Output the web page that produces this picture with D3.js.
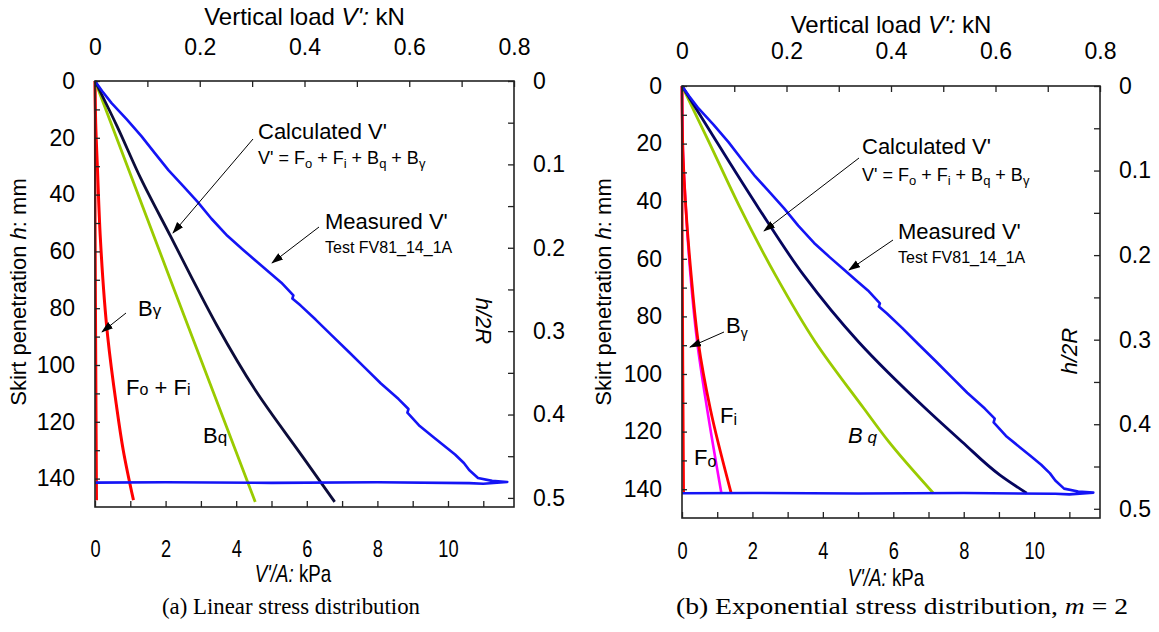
<!DOCTYPE html>
<html>
<head>
<meta charset="utf-8">
<script src="https://cdn.jsdelivr.net/npm/d3@7"></script>
<style>
  body { margin: 0; background: #fff; }
  svg { font-family: "Liberation Sans", Arial, sans-serif; }
</style>
</head>
<body>
<svg id="chart" width="1159" height="632"></svg>
<script>
//Skirt penetration vs vertical load, two stress distributions side by side.

//tick values / labels
const kNMinor = [0, 0.1, 0.2, 0.3, 0.4, 0.5, 0.6, 0.7, 0.8];
const kNTicks = [0, 0.2, 0.4, 0.6, 0.8];
const kPaMinor = [0, 1, 2, 3, 4, 5, 6, 7, 8, 9, 10, 11];
const kPaTicks = [0, 2, 4, 6, 8, 10];
const mmMinor = [0, 10, 20, 30, 40, 50, 60, 70, 80, 90, 100, 110, 120, 130, 140];
const mmTicks = [0, 20, 40, 60, 80, 100, 120, 140];
const ratioMinor = [0, 0.05, 0.1, 0.15, 0.2, 0.25, 0.3, 0.35, 0.4, 0.45, 0.5];
const ratioTicks = [0, 0.1, 0.2, 0.3, 0.4, 0.5];

//axis extents
const kPaMax = 11.87;   //= 0.8 kN / A
const mmMax = 150;
const twoR = 293.6;     //mm

//measured V' (test FV81_14_1A), same in both panels
const measuredKPa = [0, 0.2, 0.47, 0.9, 1.32, 1.7, 2.08, 2.5, 2.9, 3.3, 3.75, 4.2, 4.62, 4.95, 5.28, 5.62, 5.59, 5.82, 6.25, 6.7, 7.2, 7.65, 8.1, 8.6, 8.88, 8.85, 9.2, 9.6, 9.9, 10.2, 10.45, 10.6, 10.85, 11.25, 11.68, 11.0, 10.6, 8, 5, 2, 0];
const measuredMM  = [0, 3.5, 7.8, 13.5, 19.5, 25.5, 31.4, 37, 42.5, 48.5, 54.5, 59.5, 64, 67.5, 71, 75.5, 76.6, 79, 84, 89.5, 95.5, 101, 106.5, 112, 115.5, 116.8, 121.5, 125.5, 128.5, 131.5, 134.5, 137, 139.8, 140.8, 141.2, 141.8, 141.6, 141.3, 141.5, 141.3, 141.4];

//(a) linear stress distribution
const linFoFiKPa = [0, 0.02, 0.07, 0.15, 0.36, 0.6, 0.8, 1.09];
const linFoFiMM  = [0, 15, 31, 55, 90, 113.6, 130, 147.6];
const linBgKPa = [0, 0.01, 0.03, 0.05];
const linBgMM  = [0, 50, 100, 147.6];
const linBqKPa = [0, 2.26, 4.54];
const linBqMM  = [0, 74, 148.2];
const linCalcKPa = [0, 0.62, 1.3, 2.15, 2.75, 3.45, 4.55, 5.9, 6.79];
const linCalcMM  = [0, 15.8, 34.4, 54.9, 69.5, 86, 109, 132.6, 148.2];

//(b) exponential stress distribution, m = 2
const expFoKPa = [0, 0.02, 0.11, 0.24, 0.43, 0.71, 1.12];
const expFoMM  = [0, 20, 42.5, 65.6, 88.8, 111.9, 141.5];
const expFiKPa = [0, 0.02, 0.11, 0.26, 0.46, 0.8, 1.40];
const expFiMM  = [0, 20, 42.5, 65.6, 88.8, 111.9, 141.5];
const expBgKPa = [0, 0.01, 0.03, 0.05];
const expBgMM  = [0, 50, 100, 141.5];
const expBqKPa = [0, 0.76, 1.66, 2.65, 3.78, 5.16, 5.87, 7.14];
const expBqMM  = [0, 19.3, 42.5, 65.6, 88.8, 111.9, 123.5, 141.4];
const expCalcKPa = [0, 0.98, 2.18, 3.45, 5.01, 6.91, 7.95, 9.03, 9.79];
const expCalcMM  = [0, 19.3, 42.5, 65.6, 88.8, 111.9, 123.5, 135.1, 141.4];

const BLUE = "#1414f5", GREEN = "#9acb00", RED = "#ff0000", PINK = "#ff00ff";

const svg = d3.select("#chart");

svg.append("defs").append("marker")
  .attr("id","arrow")
  .attr("markerUnits","userSpaceOnUse")
  .attr("markerWidth",12).attr("markerHeight",10)
  .attr("refX",11).attr("refY",4)
  .attr("orient","auto")
  .append("path")
  .attr("d","M0,0 L12,4 L0,8 Z")
  .attr("fill","#000");

//write a text with small / subscript pieces
function rich(g, x, y, size, parts, opts){
  opts = opts || {};
  let t = g.append("text")
    .attr("x",x).attr("y",y)
    .attr("font-size",size)
    .attr("fill","#000");
  if(opts.anchor) t.attr("text-anchor",opts.anchor);
  if(opts.transform) t.attr("transform",opts.transform);
  if(opts.family) t.attr("font-family",opts.family);
  if(opts.len) t.attr("textLength",opts.len).attr("lengthAdjust","spacingAndGlyphs");
  let shift = 0;
  parts.forEach(p => {
    let s = t.append("tspan").text(p.t);
    let want = p.sub || 0;
    if(want !== shift){ s.attr("dy", want - shift); shift = want; }
    if(p.size) s.attr("font-size",p.size);
    if(p.it) s.attr("font-style","italic");
  });
  return t;
}

function arrow(g, a){
  g.append("line")
    .attr("x1",a[0]).attr("y1",a[1])
    .attr("x2",a[2]).attr("y2",a[3])
    .attr("stroke","#000").attr("stroke-width",1)
    .attr("marker-end","url(#arrow)");
}

const pick = list => d => list.some(v => Math.abs(v-d) < 1e-9) ? String(d) : "";

function drawPanel(p){
  let g = svg.append("g");

  let x = d3.scaleLinear().domain([0,kPaMax]).range([p.x0, p.x0+p.w]);
  let xTop = d3.scaleLinear().domain([0,0.8]).range([p.x0, p.x0+p.w]);
  let y = d3.scaleLinear().domain([0,mmMax]).range([p.y0, p.y0+p.h]);
  let yR = d3.scaleLinear().domain([0,mmMax/twoR]).range([p.y0, p.y0+p.h]);

  p.curves.forEach(c => {
    let line = d3.line()
      .curve(c.smooth ? d3.curveMonotoneY : d3.curveLinear)
      .x(d => x(d[0])).y(d => y(d[1]));
    g.append("path")
      .datum(d3.zip(c.kPa, c.mm))
      .attr("d", line)
      .attr("fill","none")
      .attr("stroke", c.color)
      .attr("stroke-width", c.width || 2.6)
      .attr("stroke-linejoin","round");
  });

  //frame
  g.append("rect")
    .attr("x",p.x0).attr("y",p.y0)
    .attr("width",p.w).attr("height",p.h)
    .attr("fill","none").attr("stroke","#222").attr("stroke-width",1.6);

  let style = a => {
    a.select(".domain").remove();
    a.attr("font-size",23).attr("font-family","Liberation Sans, Arial, sans-serif");
    a.selectAll(".tick line").attr("stroke","#222").attr("stroke-width",1.3);
    a.selectAll(".tick text").attr("fill","#000");
  };

  g.append("g")
    .attr("transform","translate(0,"+p.y0+")")
    .call(d3.axisTop(xTop).tickValues(kNMinor).tickSize(-6).tickPadding(p.topPad).tickFormat(pick(kNTicks)))
    .call(style);

  let bottom = g.append("g")
    .attr("transform","translate(0,"+(p.y0+p.h)+")")
    .call(d3.axisBottom(x).tickValues(kPaMinor).tickSize(-6).tickPadding(p.bottomPad).tickFormat(pick(kPaTicks)))
    .call(style);
  bottom.attr("font-size",24);
  bottom.selectAll(".tick text").attr("transform","scale(0.76,1)");

  g.append("g")
    .attr("transform","translate("+p.x0+",0)")
    .call(d3.axisLeft(y).tickValues(mmMinor).tickSize(-5).tickPadding(20).tickFormat(pick(mmTicks)))
    .call(style);

  g.append("g")
    .attr("transform","translate("+(p.x0+p.w)+",0)")
    .call(d3.axisRight(yR).tickValues(ratioMinor).tickSize(-6).tickPadding(19).tickFormat(pick(ratioTicks)))
    .call(style);

  //axis titles
  rich(g, p.x0+p.w/2, p.topTitleY, 24,
    [{t:"Vertical load "},{t:"V':",it:true},{t:" kN"}], {anchor:"middle"});
  rich(g, 0, 0, 22,
    [{t:"Skirt penetration "},{t:"h",it:true},{t:": mm"}],
    {anchor:"middle", transform:"translate("+p.yLab[0]+","+p.yLab[1]+") rotate(-90)"});
  rich(g, 0, 0, 24, [{t:"V'/A:",it:true},{t:" kPa"}],
    {anchor:"middle", transform:"translate("+p.kPaLab[0]+","+p.kPaLab[1]+") scale(0.78,1)"});
  rich(g, 0, 0, 22, [{t:"h/2R",it:true}],
    {anchor:"middle", transform:"translate("+p.hLab[0]+","+p.hLab[1]+") rotate("+p.hLab[2]+")"});

  //caption
  rich(g, p.cap[0], p.cap[1], 23, p.capParts,
    {anchor:"middle", family:"Liberation Serif, Times New Roman, serif", len:p.cap[2]});

  //annotations
  p.notes.forEach(n => rich(g, n.x, n.y, n.size, n.parts));
  p.arrows.forEach(a => arrow(g, a));
}

const formulaParts = [
  {t:"V' = F"},{t:"o",size:13,sub:4},{t:" + F",sub:0},{t:"i",size:13,sub:4},
  {t:" + B",sub:0},{t:"q",size:13,sub:4},{t:" + B",sub:0},{t:"γ",size:13,sub:4}
];

drawPanel({
  x0:95, y0:81, w:419, h:426,
  topPad:26, bottomPad:33, topTitleY:25,
  yLab:[26,292], kPaLab:[293,582], hLab:[476,321,90],
  cap:[291,614,258],
  capParts:[{t:"(a) Linear stress distribution"}],
  curves:[
    {kPa:linBgKPa, mm:linBgMM, color:RED, width:2.4, smooth:true},
    {kPa:linFoFiKPa, mm:linFoFiMM, color:RED, width:3, smooth:true},
    {kPa:linBqKPa, mm:linBqMM, color:GREEN, width:2.8},
    {kPa:linCalcKPa, mm:linCalcMM, color:"#0c0c3a", width:2.8, smooth:true},
    {kPa:measuredKPa, mm:measuredMM, color:BLUE, width:2.6}
  ],
  notes:[
    {x:258, y:139, size:22, parts:[{t:"Calculated V'"}]},
    {x:258, y:164, size:18, parts:formulaParts},
    {x:325, y:229, size:22, parts:[{t:"Measured V'"}]},
    {x:325, y:253, size:16, parts:[{t:"Test FV81_14_1A"}]},
    {x:138, y:316, size:22, parts:[{t:"B"},{t:"γ",size:17}]},
    {x:126, y:395, size:22, parts:[{t:"F"},{t:"o",size:16},{t:" + F"},{t:"i",size:16}]},
    {x:203, y:443, size:22, parts:[{t:"B"},{t:"q",size:17}]}
  ],
  arrows:[
    [253,139,173,233],
    [319,227,272,263],
    [126,313,102,332]
  ]
});

drawPanel({
  x0:682, y0:86, w:418, h:432,
  topPad:27, bottomPad:24, topTitleY:33,
  yLab:[611,292], kPaLab:[886,586], hLab:[1077,351,-90],
  cap:[902,614,452],
  capParts:[{t:"(b) Exponential stress distribution, "},{t:"m",it:true},{t:" = 2"}],
  curves:[
    {kPa:expBgKPa, mm:expBgMM, color:RED, width:2.4, smooth:true},
    {kPa:expFoKPa, mm:expFoMM, color:PINK, width:2.6, smooth:true},
    {kPa:expFiKPa, mm:expFiMM, color:RED, width:2.8, smooth:true},
    {kPa:expBqKPa, mm:expBqMM, color:GREEN, width:2.8, smooth:true},
    {kPa:expCalcKPa, mm:expCalcMM, color:"#05055e", width:2.8, smooth:true},
    {kPa:measuredKPa, mm:measuredMM, color:BLUE, width:2.6}
  ],
  notes:[
    {x:862, y:154, size:22, parts:[{t:"Calculated V'"}]},
    {x:862, y:181, size:18, parts:formulaParts},
    {x:898, y:239, size:22, parts:[{t:"Measured V'"}]},
    {x:898, y:263, size:16, parts:[{t:"Test FV81_14_1A"}]},
    {x:726, y:333, size:22, parts:[{t:"B"},{t:"γ",size:14,sub:5}]},
    {x:720, y:423, size:22, parts:[{t:"F"},{t:"i",size:16,sub:2}]},
    {x:694, y:465, size:22, parts:[{t:"F"},{t:"o",size:16,sub:2}]},
    {x:848, y:443, size:22, parts:[{t:"B",it:true},{t:" q",size:17,it:true}]}
  ],
  arrows:[
    [859,158,764,231],
    [893,240,849,270],
    [724,332,690,347]
  ]
});
</script>
</body>
</html>
